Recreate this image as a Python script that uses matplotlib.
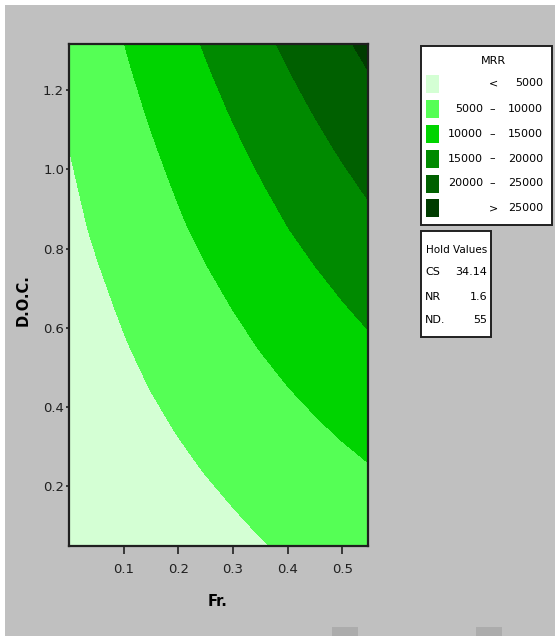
import numpy as np
import matplotlib.pyplot as plt
from matplotlib.patches import Rectangle

plt.rcParams['font.family'] = ['Liberation Sans Narrow', 'DejaVu Sans']

# grid (MRR at each Fr / D.O.C. node)
fr = [0.00, 0.05, 0.10, 0.15, 0.20, 0.25, 0.30, 0.35, 0.40, 0.45, 0.50, 0.55]
doc = [0.05, 0.15, 0.25, 0.35, 0.45, 0.55, 0.65, 0.75, 0.85, 0.95, 1.05, 1.15, 1.25, 1.35]
mrr = [
    [630, 1230, 1830, 2420, 3020, 3620, 4220, 4810, 5410, 6010, 6610, 7200],
    [870, 1560, 2260, 2950, 3640, 4330, 5030, 5720, 6410, 7100, 7800, 8490],
    [1250, 2040, 2830, 3610, 4400, 5190, 5980, 6760, 7550, 8340, 9130, 9910],
    [1680, 2560, 3450, 4330, 5210, 6090, 6980, 7860, 8740, 9620, 10510, 11390],
    [2150, 3130, 4110, 5080, 6060, 7040, 8020, 8990, 9970, 10950, 11930, 12900],
    [2600, 3670, 4750, 5820, 6890, 7960, 9040, 10110, 11180, 12250, 13330, 14400],
    [3050, 4220, 5390, 6550, 7720, 8890, 10060, 11220, 12390, 13560, 14730, 15890],
    [3550, 4810, 6080, 7340, 8600, 9860, 11130, 12390, 13650, 14910, 16180, 17440],
    [4070, 5430, 6790, 8140, 9500, 10860, 12220, 13570, 14930, 16290, 17650, 19000],
    [4500, 5950, 7410, 8860, 10310, 11760, 13220, 14670, 16120, 17570, 19030, 20480],
    [4980, 6530, 8080, 9620, 11170, 12720, 14270, 15810, 17360, 18910, 20460, 22000],
    [5480, 7120, 8770, 10410, 12050, 13690, 15340, 16980, 18620, 20260, 21910, 23550],
    [6000, 7740, 9480, 11210, 12950, 14690, 16430, 18160, 19900, 21640, 23380, 25110],
    [6520, 8350, 10190, 12020, 13850, 15680, 17520, 19350, 21180, 23010, 24850, 26680],
]
levels = [5000, 10000, 15000, 20000, 25000]
hold_names = ['CS', 'NR', 'ND.']
hold_values = ['34.14', '1.6', '55']

colors = ['#d4ffd4', '#55ff55', '#00d400', '#008a00', '#006000', '#003c00']
W, H = 555, 636


def fx(px):
    return px / W


def fy(py):
    return 1 - py / H


fig = plt.figure(figsize=(W / 100, H / 100), dpi=100, facecolor='white')
fig.patches.append(Rectangle((fx(5), 0), 1, fy(5), transform=fig.transFigure,
                             facecolor='#c0c0c0', edgecolor='none', zorder=-2))
for x0 in [332, 476]:
    fig.patches.append(Rectangle((fx(x0), 0), fx(26), 9 / H, transform=fig.transFigure,
                                 facecolor='#acacac', edgecolor='none', zorder=-1))

ax = fig.add_axes([fx(69), fy(546), fx(367.5) - fx(69), fy(43.5) - fy(546)])
F, D = np.meshgrid(fr, doc)
bounds = [-1e9] + levels + [1e9]
ax.contourf(F, D, np.array(mrr), levels=bounds, colors=colors)
ax.set_xlim(0.0, 0.546)
ax.set_ylim(0.049, 1.318)

ax.set_xticks([0.1, 0.2, 0.3, 0.4, 0.5])
ax.set_yticks([0.2, 0.4, 0.6, 0.8, 1.0, 1.2])
ax.tick_params(axis='x', direction='out', length=6, width=1.2, pad=6,
               labelsize=9.5, colors='#202020')
ax.tick_params(axis='y', direction='out', length=2.5, width=1.2, pad=1,
               labelsize=9.5, colors='#202020')
for s in ax.spines.values():
    s.set_linewidth(1.6)
    s.set_color('#202020')

fig.text(fx(218), fy(602), 'Fr.', ha='center', va='center',
         fontsize=10.5, fontweight='bold')
fig.text(fx(23), fy(300), 'D.O.C.', ha='center', va='center', rotation=90,
         fontsize=10.5, fontweight='bold')

# legend box
fs = 8
fig.patches.append(Rectangle((fx(421), fy(225)), fx(551.5) - fx(421), fy(46) - fy(225),
                             transform=fig.transFigure, facecolor='white',
                             edgecolor='#202020', linewidth=1.4, zorder=2))
fig.text(fx(493), fy(61), 'MRR', ha='center', va='center', fontsize=fs, zorder=3)
row_y = [83.5, 109, 134, 158.5, 183.5, 208]
for i, c in enumerate(colors):
    yc = row_y[i]
    fig.patches.append(Rectangle((fx(425.5), fy(yc + 9)), fx(13.5), 18 / H,
                                 transform=fig.transFigure, facecolor=c,
                                 edgecolor='none', zorder=3))
    if i == 0:
        fig.text(fx(493), fy(yc), '<', ha='center', va='center', fontsize=fs, zorder=3)
        fig.text(fx(543), fy(yc), str(levels[0]), ha='right', va='center', fontsize=fs, zorder=3)
    elif i == len(colors) - 1:
        fig.text(fx(493), fy(yc), '>', ha='center', va='center', fontsize=fs, zorder=3)
        fig.text(fx(543), fy(yc), str(levels[-1]), ha='right', va='center', fontsize=fs, zorder=3)
    else:
        fig.text(fx(483), fy(yc), str(levels[i - 1]), ha='right', va='center', fontsize=fs, zorder=3)
        fig.text(fx(492), fy(yc), '\u2013', ha='center', va='center', fontsize=fs, zorder=3)
        fig.text(fx(543), fy(yc), str(levels[i]), ha='right', va='center', fontsize=fs, zorder=3)

# hold values box
fig.patches.append(Rectangle((fx(421), fy(336.5)), fx(491.5) - fx(421), fy(231) - fy(336.5),
                             transform=fig.transFigure, facecolor='white',
                             edgecolor='#202020', linewidth=1.4, zorder=2))
fig.text(fx(456.5), fy(250), 'Hold Values', ha='center', va='center', fontsize=7.5, zorder=3)
for name, val, yc in zip(hold_names, hold_values, [272, 296.5, 320]):
    fig.text(fx(425), fy(yc), name, ha='left', va='center', fontsize=fs, zorder=3)
    fig.text(fx(487), fy(yc), val, ha='right', va='center', fontsize=fs, zorder=3)

plt.savefig('out.png', dpi=100, facecolor=fig.get_facecolor())
